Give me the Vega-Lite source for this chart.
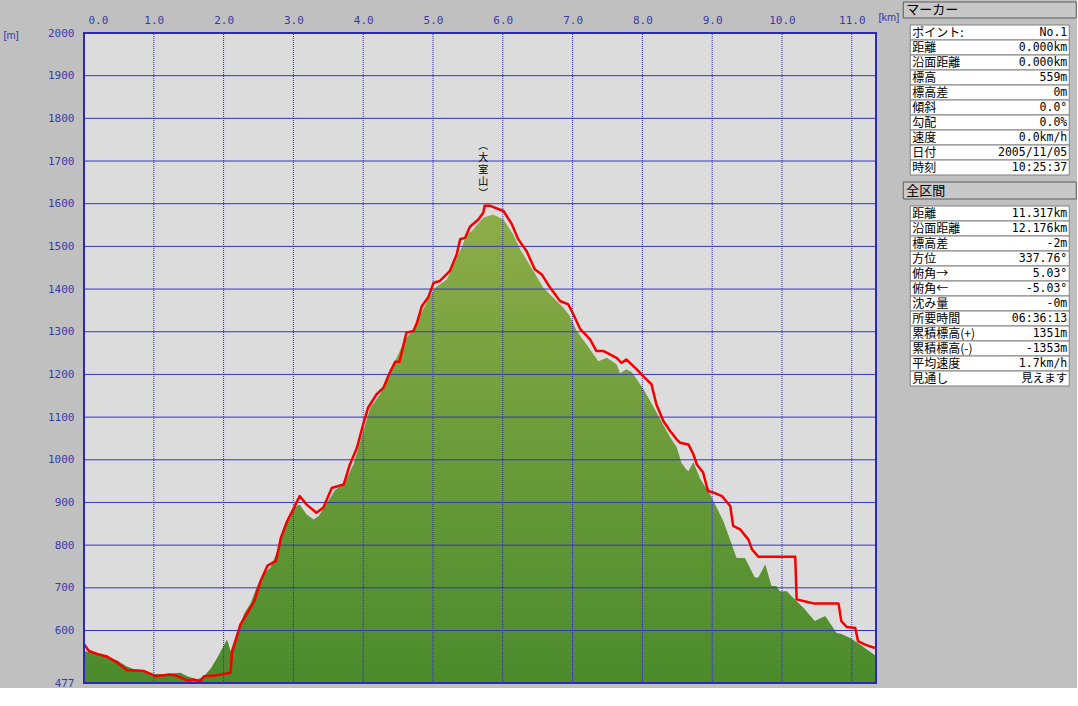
{
  "$schema": "https://vega.github.io/schema/vega-lite/v6.json",
  "background": "#c0c0c0",
  "padding": {"left": 3, "top": 1, "right": 0, "bottom": 0},
  "config": {"view": {"stroke": null}},
  "spacing": 3,
  "datasets": {
    "terrain": [
      {"km": 0.00, "elev": 552}, {"km": 0.10, "elev": 548}, {"km": 0.29, "elev": 540}, {"km": 0.48, "elev": 530},
      {"km": 0.60, "elev": 517}, {"km": 0.72, "elev": 509}, {"km": 0.86, "elev": 505}, {"km": 1.00, "elev": 498},
      {"km": 1.19, "elev": 498}, {"km": 1.38, "elev": 501}, {"km": 1.48, "elev": 493}, {"km": 1.62, "elev": 485},
      {"km": 1.72, "elev": 493}, {"km": 1.82, "elev": 512}, {"km": 1.91, "elev": 536}, {"km": 2.01, "elev": 567},
      {"km": 2.05, "elev": 579}, {"km": 2.10, "elev": 552}, {"km": 2.17, "elev": 585}, {"km": 2.24, "elev": 612},
      {"km": 2.29, "elev": 638}, {"km": 2.39, "elev": 665}, {"km": 2.48, "elev": 704}, {"km": 2.58, "elev": 735},
      {"km": 2.67, "elev": 747}, {"km": 2.77, "elev": 786}, {"km": 2.87, "elev": 841}, {"km": 3.01, "elev": 888},
      {"km": 3.09, "elev": 895}, {"km": 3.19, "elev": 872}, {"km": 3.29, "elev": 860}, {"km": 3.36, "elev": 868},
      {"km": 3.48, "elev": 899}, {"km": 3.60, "elev": 930}, {"km": 3.72, "elev": 942}, {"km": 3.86, "elev": 989},
      {"km": 4.00, "elev": 1067}, {"km": 4.10, "elev": 1122}, {"km": 4.24, "elev": 1153}, {"km": 4.38, "elev": 1208},
      {"km": 4.48, "elev": 1239}, {"km": 4.60, "elev": 1282}, {"km": 4.72, "elev": 1306}, {"km": 4.81, "elev": 1337},
      {"km": 4.93, "elev": 1376}, {"km": 5.03, "elev": 1403}, {"km": 5.20, "elev": 1423}, {"km": 5.34, "elev": 1473},
      {"km": 5.41, "elev": 1497}, {"km": 5.48, "elev": 1528}, {"km": 5.55, "elev": 1535}, {"km": 5.63, "elev": 1550},
      {"km": 5.72, "elev": 1567}, {"km": 5.86, "elev": 1575}, {"km": 6.01, "elev": 1563}, {"km": 6.15, "elev": 1528},
      {"km": 6.25, "elev": 1493}, {"km": 6.44, "elev": 1442}, {"km": 6.58, "elev": 1403}, {"km": 6.72, "elev": 1380},
      {"km": 6.87, "elev": 1356}, {"km": 6.96, "elev": 1337}, {"km": 7.06, "elev": 1302}, {"km": 7.20, "elev": 1270},
      {"km": 7.37, "elev": 1231}, {"km": 7.49, "elev": 1239}, {"km": 7.63, "elev": 1224}, {"km": 7.68, "elev": 1203},
      {"km": 7.77, "elev": 1212}, {"km": 7.85, "elev": 1205}, {"km": 8.01, "elev": 1167}, {"km": 8.18, "elev": 1118},
      {"km": 8.35, "elev": 1067}, {"km": 8.40, "elev": 1052}, {"km": 8.49, "elev": 1030}, {"km": 8.56, "elev": 993},
      {"km": 8.63, "elev": 977}, {"km": 8.66, "elev": 973}, {"km": 8.73, "elev": 995}, {"km": 8.83, "elev": 955},
      {"km": 8.97, "elev": 919}, {"km": 9.02, "elev": 903}, {"km": 9.16, "elev": 856}, {"km": 9.28, "elev": 802},
      {"km": 9.35, "elev": 770}, {"km": 9.47, "elev": 770}, {"km": 9.54, "elev": 747}, {"km": 9.61, "elev": 724},
      {"km": 9.66, "elev": 724}, {"km": 9.76, "elev": 755}, {"km": 9.85, "elev": 704}, {"km": 9.92, "elev": 704},
      {"km": 9.97, "elev": 692}, {"km": 10.07, "elev": 692}, {"km": 10.16, "elev": 677}, {"km": 10.31, "elev": 653},
      {"km": 10.47, "elev": 622}, {"km": 10.62, "elev": 634}, {"km": 10.78, "elev": 595}, {"km": 10.85, "elev": 592},
      {"km": 10.97, "elev": 583}, {"km": 11.12, "elev": 567}, {"km": 11.347, "elev": 540}
    ],
    "track": [
      {"km": 0.00, "elev": 568}, {"km": 0.07, "elev": 552}, {"km": 0.19, "elev": 545}, {"km": 0.33, "elev": 539},
      {"km": 0.48, "elev": 524}, {"km": 0.62, "elev": 507}, {"km": 0.76, "elev": 506}, {"km": 0.86, "elev": 505},
      {"km": 1.03, "elev": 493}, {"km": 1.22, "elev": 497}, {"km": 1.31, "elev": 495}, {"km": 1.48, "elev": 483},
      {"km": 1.58, "elev": 485}, {"km": 1.67, "elev": 481}, {"km": 1.72, "elev": 493}, {"km": 1.91, "elev": 495},
      {"km": 2.10, "elev": 501}, {"km": 2.12, "elev": 548}, {"km": 2.24, "elev": 614}, {"km": 2.34, "elev": 641},
      {"km": 2.44, "elev": 669}, {"km": 2.53, "elev": 716}, {"km": 2.63, "elev": 752}, {"km": 2.75, "elev": 763},
      {"km": 2.82, "elev": 817}, {"km": 2.91, "elev": 856}, {"km": 3.01, "elev": 888}, {"km": 3.09, "elev": 915},
      {"km": 3.19, "elev": 895}, {"km": 3.33, "elev": 876}, {"km": 3.43, "elev": 888}, {"km": 3.55, "elev": 934},
      {"km": 3.72, "elev": 942}, {"km": 3.81, "elev": 989}, {"km": 3.91, "elev": 1028}, {"km": 4.00, "elev": 1083},
      {"km": 4.07, "elev": 1122}, {"km": 4.19, "elev": 1153}, {"km": 4.29, "elev": 1169}, {"km": 4.38, "elev": 1204},
      {"km": 4.46, "elev": 1230}, {"km": 4.52, "elev": 1230}, {"km": 4.62, "elev": 1298}, {"km": 4.72, "elev": 1302},
      {"km": 4.77, "elev": 1321}, {"km": 4.84, "elev": 1360}, {"km": 4.93, "elev": 1380}, {"km": 5.01, "elev": 1415},
      {"km": 5.10, "elev": 1419}, {"km": 5.24, "elev": 1442}, {"km": 5.34, "elev": 1481}, {"km": 5.39, "elev": 1517},
      {"km": 5.46, "elev": 1520}, {"km": 5.53, "elev": 1546}, {"km": 5.65, "elev": 1563}, {"km": 5.72, "elev": 1579},
      {"km": 5.74, "elev": 1595}, {"km": 5.82, "elev": 1595}, {"km": 6.01, "elev": 1583}, {"km": 6.13, "elev": 1552},
      {"km": 6.22, "elev": 1517}, {"km": 6.34, "elev": 1489}, {"km": 6.46, "elev": 1446}, {"km": 6.56, "elev": 1434},
      {"km": 6.68, "elev": 1403}, {"km": 6.82, "elev": 1372}, {"km": 6.94, "elev": 1364}, {"km": 7.01, "elev": 1341},
      {"km": 7.11, "elev": 1306}, {"km": 7.25, "elev": 1282}, {"km": 7.34, "elev": 1255}, {"km": 7.44, "elev": 1255},
      {"km": 7.63, "elev": 1239}, {"km": 7.70, "elev": 1227}, {"km": 7.77, "elev": 1235}, {"km": 7.92, "elev": 1212},
      {"km": 8.01, "elev": 1196}, {"km": 8.13, "elev": 1177}, {"km": 8.20, "elev": 1130}, {"km": 8.30, "elev": 1091},
      {"km": 8.40, "elev": 1067}, {"km": 8.49, "elev": 1048}, {"km": 8.54, "elev": 1040}, {"km": 8.66, "elev": 1036},
      {"km": 8.73, "elev": 1013}, {"km": 8.78, "elev": 989}, {"km": 8.87, "elev": 970}, {"km": 8.94, "elev": 927},
      {"km": 9.02, "elev": 923}, {"km": 9.14, "elev": 915}, {"km": 9.26, "elev": 891}, {"km": 9.30, "elev": 845},
      {"km": 9.40, "elev": 837}, {"km": 9.52, "elev": 813}, {"km": 9.57, "elev": 790}, {"km": 9.66, "elev": 773},
      {"km": 10.19, "elev": 773}, {"km": 10.21, "elev": 673}, {"km": 10.38, "elev": 666}, {"km": 10.47, "elev": 663},
      {"km": 10.81, "elev": 663}, {"km": 10.85, "elev": 622}, {"km": 10.93, "elev": 608}, {"km": 11.05, "elev": 606},
      {"km": 11.09, "elev": 575}, {"km": 11.19, "elev": 567}, {"km": 11.33, "elev": 559}
    ],
    "vgrid": [
      {"km": 1}, {"km": 2}, {"km": 3}, {"km": 4}, {"km": 5}, {"km": 6},
      {"km": 7}, {"km": 8}, {"km": 9}, {"km": 10}, {"km": 11}
    ],
    "hgrid": [
      {"elev": 600}, {"elev": 700}, {"elev": 800}, {"elev": 900}, {"elev": 1000}, {"elev": 1100}, {"elev": 1200},
      {"elev": 1300}, {"elev": 1400}, {"elev": 1500}, {"elev": 1600}, {"elev": 1700}, {"elev": 1800}, {"elev": 1900}
    ],
    "peaks": [
      {"km": 5.72, "elev": 1747, "name": "︵\n大\n室\n山\n︶"}
    ],
    "marker": [
      {"label": "ポイント:", "value": "No.1"},
      {"label": "距離", "value": "0.000km"},
      {"label": "沿面距離", "value": "0.000km"},
      {"label": "標高", "value": "559m"},
      {"label": "標高差", "value": "0m"},
      {"label": "傾斜", "value": "0.0°"},
      {"label": "勾配", "value": "0.0%"},
      {"label": "速度", "value": "0.0km/h"},
      {"label": "日付", "value": "2005/11/05"},
      {"label": "時刻", "value": "10:25:37"}
    ],
    "total": [
      {"label": "距離", "value": "11.317km"},
      {"label": "沿面距離", "value": "12.176km"},
      {"label": "標高差", "value": "-2m"},
      {"label": "方位", "value": "337.76°"},
      {"label": "俯角→", "value": "5.03°"},
      {"label": "俯角←", "value": "-5.03°"},
      {"label": "沈み量", "value": "-0m"},
      {"label": "所要時間", "value": "06:36:13"},
      {"label": "累積標高(+)", "value": "1351m"},
      {"label": "累積標高(-)", "value": "-1353m"},
      {"label": "平均速度", "value": "1.7km/h"},
      {"label": "見通し", "value": "見えます"}
    ]
  },
  "hconcat": [
    {
      "width": 792,
      "height": 681,
      "layer": [
        {
          "data": {"values": [{"part": "plot"}]},
          "mark": {"type": "rect", "color": "#dcdcdc"},
          "encoding": {
            "x": {"datum": 0, "type": "quantitative", "scale": {"domain": [0, 11.347], "nice": false, "zero": false}},
            "x2": {"datum": 11.347},
            "y": {"datum": 477, "type": "quantitative", "scale": {"domain": [477, 2072.64], "nice": false, "zero": false}},
            "y2": {"datum": 2000}
          }
        },
        {
          "data": {"name": "terrain"},
          "mark": {
            "type": "area",
            "fill": {
              "gradient": "linear", "x1": 0, "y1": 0, "x2": 0, "y2": 1,
              "stops": [{"offset": 0, "color": "#8dac48"}, {"offset": 1, "color": "#4b8b2c"}]
            },
            "opacity": 1
          },
          "encoding": {
            "x": {
              "field": "km", "type": "quantitative",
              "scale": {"domain": [0, 11.347], "nice": false, "zero": false},
              "axis": {
                "orient": "top", "offset": -31,
                "values": [0, 1, 2, 3, 4, 5, 6, 7, 8, 9, 10, 11], "format": ".1f",
                "title": "[km]", "titleAngle": 0, "titleX": 794, "titleY": -16,
                "titleAlign": "left", "titleBaseline": "middle",
                "titleFont": "Liberation Sans", "titleFontSize": 11, "titleFontWeight": "normal", "titleColor": "#3b3ba8",
                "labelFont": "DejaVu Sans Mono", "labelFontSize": 11, "labelColor": "#3b3ba8",
                "labelPadding": 8, "labelFlush": true, "labelFlushOffset": -4,
                "ticks": false, "domain": false, "grid": false
              }
            },
            "y": {
              "field": "elev", "type": "quantitative",
              "scale": {"domain": [477, 2072.64], "nice": false, "zero": false},
              "axis": {
                "orient": "left",
                "values": [477, 600, 700, 800, 900, 1000, 1100, 1200, 1300, 1400, 1500, 1600, 1700, 1800, 1900, 2000],
                "format": "d",
                "title": "[m]", "titleAngle": 0, "titleX": -81, "titleY": 33,
                "titleAlign": "left", "titleBaseline": "middle",
                "titleFont": "Liberation Sans", "titleFontSize": 11, "titleFontWeight": "normal", "titleColor": "#3b3ba8",
                "labelFont": "DejaVu Sans Mono", "labelFontSize": 11, "labelColor": "#3b3ba8",
                "labelPadding": 10, "labelOverlap": false,
                "ticks": false, "domain": false, "grid": false
              }
            },
            "y2": {"datum": 477}
          }
        },
        {
          "data": {"name": "vgrid"},
          "mark": {"type": "rule", "color": "#2a2aa8", "strokeWidth": 1, "strokeDash": [1, 1]},
          "encoding": {
            "x": {"field": "km", "type": "quantitative"},
            "y": {"datum": 477, "type": "quantitative"},
            "y2": {"datum": 2000}
          }
        },
        {
          "data": {"name": "hgrid"},
          "mark": {"type": "rule", "color": "#3434c8", "strokeWidth": 1},
          "encoding": {
            "y": {"field": "elev", "type": "quantitative"},
            "x": {"datum": 0, "type": "quantitative"},
            "x2": {"datum": 11.347}
          }
        },
        {
          "data": {"name": "track"},
          "mark": {"type": "line", "color": "#f40000", "strokeWidth": 2.5, "strokeJoin": "round"},
          "encoding": {
            "x": {"field": "km", "type": "quantitative"},
            "y": {"field": "elev", "type": "quantitative"}
          }
        },
        {
          "data": {"name": "peaks"},
          "mark": {
            "type": "text", "lineBreak": "\n", "font": "Noto Sans CJK JP", "fontSize": 10,
            "lineHeight": 12, "baseline": "top", "align": "center", "color": "#000000"
          },
          "encoding": {
            "x": {"field": "km", "type": "quantitative"},
            "y": {"field": "elev", "type": "quantitative"},
            "text": {"field": "name"}
          }
        },
        {
          "data": {"values": [{"part": "frame"}]},
          "mark": {"type": "rect", "filled": false, "color": "#2a2ab8", "strokeWidth": 2},
          "encoding": {
            "x": {"datum": 0, "type": "quantitative"}, "x2": {"datum": 11.347},
            "y": {"datum": 477, "type": "quantitative"}, "y2": {"datum": 2000}
          }
        }
      ]
    },
    {
      "vconcat": [
        {
          "width": 173, "height": 16,
          "data": {"values": [{"title": "マーカー"}]},
          "layer": [
            {
              "mark": {"type": "rect", "fill": "#c8c8c8", "stroke": "#5a5a5a", "strokeWidth": 1},
              "encoding": {
                "x": {"datum": 0, "type": "quantitative", "scale": {"domain": [0, 1]}, "axis": null}, "x2": {"datum": 1},
                "y": {"datum": 0, "type": "quantitative", "scale": {"domain": [0, 1]}, "axis": null}, "y2": {"datum": 1}
              }
            },
            {
              "mark": {"type": "text", "align": "left", "baseline": "middle", "dx": 3, "font": "Noto Sans CJK JP", "fontSize": 13, "color": "#000000"},
              "encoding": {
                "x": {"datum": 0, "type": "quantitative"},
                "y": {"datum": 0.5, "type": "quantitative"},
                "text": {"field": "title"}
              }
            }
          ]
        },
        {
          "width": 159, "height": 150,
          "data": {"name": "marker"},
          "layer": [
            {
              "mark": {"type": "rect", "fill": "#ffffff", "stroke": "#808080", "strokeWidth": 1},
              "encoding": {
                "y": {"field": "label", "type": "nominal", "sort": null, "axis": null, "scale": {"paddingInner": 0, "paddingOuter": 0}},
                "x": {"datum": 0, "type": "quantitative", "scale": {"domain": [0, 1]}, "axis": null}, "x2": {"datum": 1}
              }
            },
            {
              "mark": {"type": "text", "align": "left", "baseline": "middle", "dx": 2, "font": "Noto Sans CJK JP", "fontSize": 12, "color": "#000000"},
              "encoding": {
                "y": {"field": "label", "type": "nominal", "sort": null},
                "x": {"datum": 0, "type": "quantitative"},
                "text": {"field": "label"}
              }
            },
            {
              "mark": {"type": "text", "align": "right", "baseline": "middle", "dx": -2, "font": "DejaVu Sans Mono, Noto Sans CJK JP", "fontSize": 11.5, "color": "#000000"},
              "encoding": {
                "y": {"field": "label", "type": "nominal", "sort": null},
                "x": {"datum": 1, "type": "quantitative"},
                "text": {"field": "value"}
              }
            }
          ]
        },
        {
          "width": 173, "height": 17,
          "data": {"values": [{"title": "全区間"}]},
          "layer": [
            {
              "mark": {"type": "rect", "fill": "#c8c8c8", "stroke": "#5a5a5a", "strokeWidth": 1},
              "encoding": {
                "x": {"datum": 0, "type": "quantitative", "scale": {"domain": [0, 1]}, "axis": null}, "x2": {"datum": 1},
                "y": {"datum": 0, "type": "quantitative", "scale": {"domain": [0, 1]}, "axis": null}, "y2": {"datum": 1}
              }
            },
            {
              "mark": {"type": "text", "align": "left", "baseline": "middle", "dx": 3, "font": "Noto Sans CJK JP", "fontSize": 13, "color": "#000000"},
              "encoding": {
                "x": {"datum": 0, "type": "quantitative"},
                "y": {"datum": 0.5, "type": "quantitative"},
                "text": {"field": "title"}
              }
            }
          ]
        },
        {
          "width": 159, "height": 180,
          "data": {"name": "total"},
          "layer": [
            {
              "mark": {"type": "rect", "fill": "#ffffff", "stroke": "#808080", "strokeWidth": 1},
              "encoding": {
                "y": {"field": "label", "type": "nominal", "sort": null, "axis": null, "scale": {"paddingInner": 0, "paddingOuter": 0}},
                "x": {"datum": 0, "type": "quantitative", "scale": {"domain": [0, 1]}, "axis": null}, "x2": {"datum": 1}
              }
            },
            {
              "mark": {"type": "text", "align": "left", "baseline": "middle", "dx": 2, "font": "Noto Sans CJK JP", "fontSize": 12, "color": "#000000"},
              "encoding": {
                "y": {"field": "label", "type": "nominal", "sort": null},
                "x": {"datum": 0, "type": "quantitative"},
                "text": {"field": "label"}
              }
            },
            {
              "mark": {"type": "text", "align": "right", "baseline": "middle", "dx": -2, "font": "DejaVu Sans Mono, Noto Sans CJK JP", "fontSize": 11.5, "color": "#000000"},
              "encoding": {
                "y": {"field": "label", "type": "nominal", "sort": null},
                "x": {"datum": 1, "type": "quantitative"},
                "text": {"field": "value"}
              }
            }
          ]
        }
      ],
      "spacing": 5,
      "center": true
    }
  ]
}
